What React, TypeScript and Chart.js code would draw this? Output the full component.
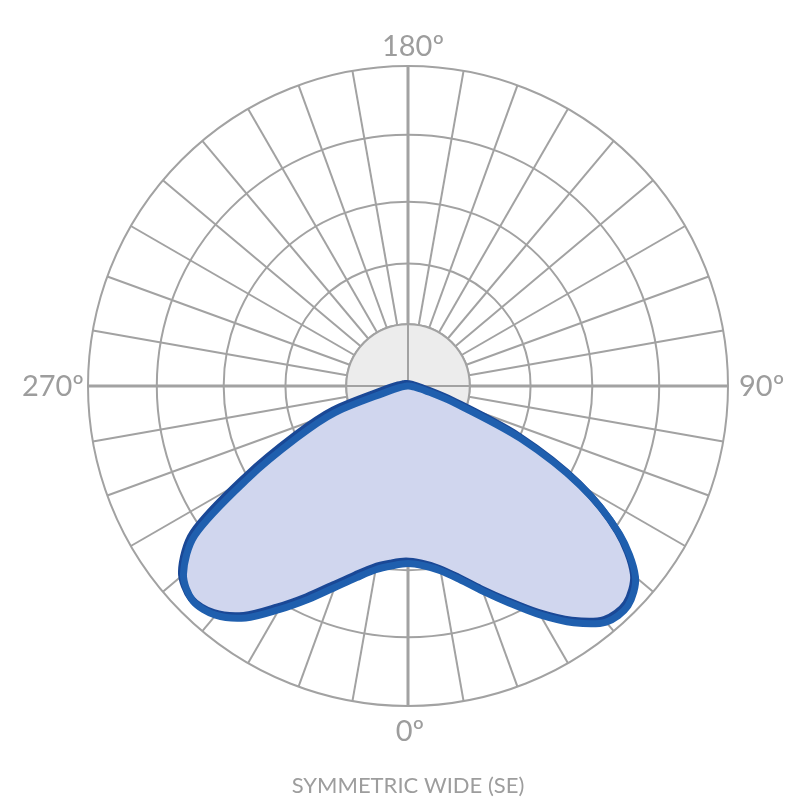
import { useEffect, useRef } from 'react';
import { Chart, registerables } from 'chart.js';

Chart.register(...registerables);

// Photometric angles, clockwise from the top of the diagram (5° steps)
const ANGLE_LABELS = [
  180, 175, 170, 165, 160, 155, 150, 145, 140, 135, 130, 125, 120, 115, 110, 105, 100, 95,
  90, 85, 80, 75, 70, 65, 60, 55, 50, 45, 40, 35, 30, 25, 20, 15, 10, 5,
  0, 355, 350, 345, 340, 335, 330, 325, 320, 315, 310, 305, 300, 295, 290, 285, 280, 275,
  270, 265, 260, 255, 250, 245, 240, 235, 230, 225, 220, 215, 210, 205, 200, 195, 190, 185,
];

// Relative intensity (% of the outer ring), same order as ANGLE_LABELS
const INTENSITY = [
  0, 0, 0, 0, 0, 0, 0, 0, 0, 0, 0, 0, 0, 0, 0, 0, 0, 0,
  0.3, 0.9, 2.2, 5.6, 15.6, 38.9, 62.3, 80.7, 92.8, 97.2, 96.3, 90.3, 82.6, 74.8, 68.2, 62.6, 58.6, 56.4,
  55.5, 56.4, 58.3, 62.0, 67.0, 73.5, 80.7, 88.5, 93.5, 95.0, 91.6, 81.3, 57.6, 38.3, 24.3, 6.2, 2.5, 0.9,
  0.3, 0, 0, 0, 0, 0, 0, 0, 0, 0, 0, 0, 0, 0, 0, 0, 0, 0,
];

// Concentric ring values
const RING_TICKS = [0, 19.3, 38.3, 57.6, 78.5, 100];

const AXIS_TEXT = ['180º', '90º', '0º', '270º'];
const AXIS_ANGLES = [180, 90, 0, 270];
const TITLE = 'SYMMETRIC WIDE (SE)';

const GRID = '#a2a2a2';
const TEXT = '#9d9d9d';

const innerDiscPlugin = {
  id: 'innerDisc',
  beforeDatasetsDraw(chart: any) {
    const s = chart.scales.r;
    const ctx = chart.ctx;
    const rr = s.getDistanceFromCenterForValue(RING_TICKS[1]);
    ctx.save();
    ctx.beginPath();
    ctx.arc(s.xCenter, s.yCenter, rr, 0, Math.PI * 2);
    ctx.fillStyle = '#ececec';
    ctx.fill();
    ctx.lineWidth = 2;
    ctx.strokeStyle = GRID;
    ctx.stroke();
    ctx.beginPath();
    AXIS_ANGLES.forEach((a) => {
      const p = s.getPointPosition(ANGLE_LABELS.indexOf(a), rr);
      ctx.moveTo(s.xCenter, s.yCenter);
      ctx.lineTo(p.x, p.y);
    });
    ctx.stroke();
    ctx.restore();
  },
};

const curveShadowPlugin = {
  id: 'curveShadow',
  beforeDatasetDraw(chart: any) {
    const ctx = chart.ctx;
    ctx.save();
    ctx.shadowColor = '#1a4896';
    ctx.shadowOffsetX = -2;
    ctx.shadowOffsetY = -2.5;
    ctx.shadowBlur = 0;
  },
  afterDatasetDraw(chart: any) {
    chart.ctx.restore();
  },
};

const axisLabelPlugin = {
  id: 'axisLabels',
  afterDraw(chart: any) {
    const s = chart.scales.r;
    const ctx = chart.ctx;
    const R = s.drawingArea;
    ctx.save();
    ctx.font = '400 29px Lato';
    ctx.fillStyle = TEXT;
    ctx.textBaseline = 'alphabetic';
    // 180 (top)
    let p = s.getPointPosition(ANGLE_LABELS.indexOf(180), R + 10);
    ctx.textAlign = 'center';
    ctx.fillText(AXIS_TEXT[0], p.x + 5, p.y);
    // 90 (right)
    p = s.getPointPosition(ANGLE_LABELS.indexOf(90), R + 11);
    ctx.textAlign = 'left';
    ctx.fillText(AXIS_TEXT[1], p.x, p.y + 10);
    // 0 (bottom)
    p = s.getPointPosition(ANGLE_LABELS.indexOf(0), R + 35);
    ctx.textAlign = 'center';
    ctx.fillText(AXIS_TEXT[2], p.x + 2, p.y);
    // 270 (left)
    p = s.getPointPosition(ANGLE_LABELS.indexOf(270), R + 4);
    ctx.textAlign = 'right';
    ctx.fillText(AXIS_TEXT[3], p.x, p.y + 10);
    ctx.restore();
  },
};

export default function App() {
  const ref = useRef<HTMLCanvasElement | null>(null);

  useEffect(() => {
    if (!ref.current) return;
    const chart = new Chart(ref.current, {
      type: 'radar',
      data: {
        labels: ANGLE_LABELS.map((a) => String(a)),
        datasets: [
          {
            data: INTENSITY,
            borderColor: '#1f5fae',
            borderWidth: 7,
            backgroundColor: '#d0d6ee',
            fill: 'origin',
            pointRadius: 0,
            pointHoverRadius: 0,
            tension: 0.3,
            borderJoinStyle: 'round',
          } as any,
        ],
      },
      options: {
        animation: false,
        responsive: true,
        maintainAspectRatio: false,
        layout: { padding: { left: 87, right: 71, top: 66, bottom: 1 } },
        plugins: {
          legend: { display: false },
          tooltip: { enabled: false },
          title: {
            display: true,
            position: 'bottom',
            text: TITLE,
            color: TEXT,
            font: { family: 'Lato', size: 22, weight: '400' as any },
            padding: { top: 66, bottom: 0 },
          },
        },
        scales: {
          r: {
            min: 0,
            max: 100,
            afterBuildTicks: (s: any) => {
              s.ticks = RING_TICKS.map((v) => ({ value: v }));
            },
            ticks: { display: false },
            pointLabels: { display: false },
            grid: { circular: true, color: GRID, lineWidth: 2 },
            angleLines: {
              display: true,
              color: GRID,
              lineWidth: (c: any) => (c.index % 18 === 0 ? 3 : c.index % 2 === 0 ? 2 : 0),
            },
          } as any,
        },
      },
      plugins: [innerDiscPlugin, curveShadowPlugin, axisLabelPlugin],
    });
    return () => chart.destroy();
  }, []);

  return (
    <div style={{ position: 'absolute', left: 0, top: 0, width: 800, height: 800, background: '#fff' }}>
      <canvas ref={ref} />
    </div>
  );
}
